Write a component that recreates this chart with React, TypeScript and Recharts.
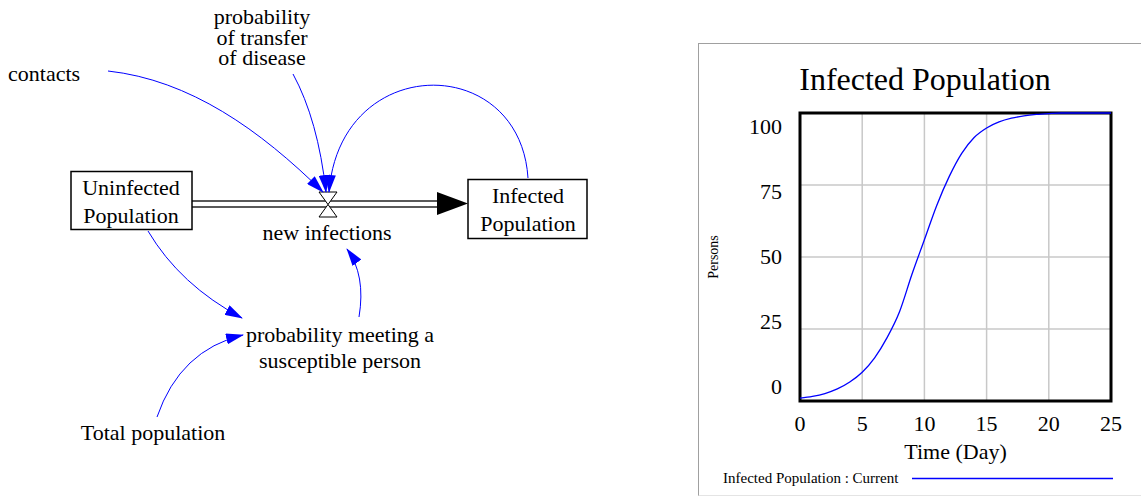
import React from 'react';
import { LineChart, Line, XAxis, YAxis, CartesianGrid, ReferenceArea } from 'recharts';

// simulation output (persons per day)
const days = [0, 1, 2, 3, 4, 5, 6, 7, 8, 9, 10, 11, 12, 13, 14, 15, 16, 17, 18, 19, 20, 21, 22, 23, 24, 25];
const infected = [1, 1.6, 2.6, 4.2, 6.6, 10, 15, 22, 31, 44, 56, 68, 78, 86, 91.5, 94.8, 96.9, 98.2, 99, 99.5, 99.8, 100, 100, 100, 100, 100];
const xTicks = [0, 5, 10, 15, 20, 25];
const yTicks = [0, 25, 50, 75, 100];

const data = days.map((d, i) => ({ day: d, infected: infected[i] }));

const serif = '"Liberation Serif", "Times New Roman", serif';
const blue = '#0000ff';

// Vensim spreads the y labels a little tighter than the grid
const YTick = (props: any) => {
    const { x, y, payload } = props;
    return (
        <text x={x} y={y + (payload.value - 50) * 0.28} dy="0.33em" textAnchor="end" fill="#000" fontSize={22} fontFamily={serif}>
            {payload.value}
        </text>
    );
};

const TimeLabel = (props: any) => {
    const vb = props.viewBox || { x: 800, y: 401, width: 311, height: 30 };
    return (
        <text x={vb.x + vb.width / 2} y={vb.y + 58} textAnchor="middle" fill="#000" fontSize={22} fontFamily={serif}>
            Time (Day)
        </text>
    );
};

const PersonsLabel = (props: any) => {
    const vb = props.viewBox || { x: 740, y: 113, width: 60, height: 288 };
    return (
        <text transform={`translate(${vb.x - 22},${vb.y + vb.height / 2}) rotate(-90)`} textAnchor="middle" fill="#000" fontSize={14} fontFamily={serif}>
            Persons
        </text>
    );
};

const Link = ({ d }: { d: string }) => (
    <path d={d} fill="none" stroke={blue} strokeWidth={1} markerEnd="url(#ah)" />
);

const Word = ({ x, y, children, anchor = 'middle' }: any) => (
    <text x={x} y={y} textAnchor={anchor} fontSize={22} fontFamily={serif} fill="#000">
        {children}
    </text>
);

// stock and flow diagram on the left
const Diagram = () => (
    <svg width={690} height={496} style={{ position: 'absolute', left: 0, top: 0 }}>
        <defs>
            <marker id="ah" viewBox="0 0 18 11" refX="17" refY="5.5" markerWidth="18" markerHeight="11" markerUnits="userSpaceOnUse" orient="auto">
                <path d="M0,0 L18,5.5 L0,11 z" fill={blue} />
            </marker>
        </defs>

        {/* pipe + valve */}
        <line x1={192} y1={201} x2={440} y2={201} stroke="#222" strokeWidth={1.5} />
        <line x1={192} y1={207} x2={440} y2={207} stroke="#222" strokeWidth={1.5} />
        <path d="M437,192 L468,203.5 L437,215 z" fill="#000" />
        <path d="M319,192 L337,192 L328,204.5 z M319,217 L337,217 L328,204.5 z" fill="#fff" stroke="#000" strokeWidth={1} />

        <rect x={71} y={171.5} width={121} height={58} fill="#fff" stroke="#000" strokeWidth={1.5} />
        <rect x={468} y={179.5} width={119} height={59} fill="#fff" stroke="#000" strokeWidth={1.5} />

        <Link d="M108,71 C190,80 260,130 323,192" />
        <Link d="M293,74 Q318,120 326,192" />
        <Link d="M528,178 C520,52 340,52 329,192" />
        <Link d="M148,231 Q180,285 242,318" />
        <Link d="M157,417 Q180,350 243,335" />
        <Link d="M359,317 Q366,275 347,249" />

        <Word x={8} y={81} anchor="start">contacts</Word>
        <Word x={262} y={24}>probability</Word>
        <Word x={262} y={44.5}>of transfer</Word>
        <Word x={262} y={65}>of disease</Word>
        <Word x={131} y={195}>Uninfected</Word>
        <Word x={131} y={223}>Population</Word>
        <Word x={327} y={240}>new infections</Word>
        <Word x={528} y={203}>Infected</Word>
        <Word x={528} y={231}>Population</Word>
        <Word x={340} y={342}>probability meeting a</Word>
        <Word x={340} y={368}>susceptible person</Word>
        <Word x={153} y={440}>Total population</Word>
    </svg>
);

export default function App() {
    return (
        <div style={{ position: 'absolute', left: 0, top: 0, width: 1141, height: 496, background: '#fff', overflow: 'hidden' }}>
            <Diagram />

            {/* graph window frame */}
            <div style={{ position: 'absolute', left: 698, top: 43, width: 460, height: 451, borderLeft: '1px solid #a0a0a0', borderTop: '1px solid #a0a0a0', borderBottom: '1px solid #e4e4e4' }} />

            <div style={{ position: 'absolute', left: 698, top: 44 }}>
                <LineChart width={443} height={452} data={data} margin={{ top: 69, right: 30, left: 42, bottom: 65 }}>
                    <CartesianGrid stroke="#c8c8c8" strokeWidth={1.5} />
                    <XAxis
                        dataKey="day"
                        type="number"
                        domain={[0, 25]}
                        ticks={xTicks}
                        axisLine={false}
                        tickLine={false}
                        tickSize={0}
                        tickMargin={14}
                        height={30}
                        tick={{ fill: '#000', fontSize: 22, fontFamily: serif }}
                        label={{ content: TimeLabel }}
                    />
                    <YAxis
                        type="number"
                        domain={[0, 100]}
                        ticks={yTicks}
                        width={60}
                        axisLine={false}
                        tickLine={false}
                        tickSize={0}
                        tickMargin={18}
                        tick={<YTick />}
                        label={{ content: PersonsLabel }}
                    />
                    <ReferenceArea x1={0} x2={25} y1={0} y2={100} fill="none" fillOpacity={0} stroke="#000" strokeWidth={3} />
                    <Line dataKey="infected" type="monotone" stroke={blue} strokeWidth={1.3} dot={false} isAnimationActive={false} />
                </LineChart>
            </div>

            <svg width={1141} height={496} style={{ position: 'absolute', left: 0, top: 0, pointerEvents: 'none' }}>
                <text x={925} y={90} textAnchor="middle" fontSize={32} fontFamily={serif} fill="#000">Infected Population</text>
                <text x={723} y={483} fontSize={15} fontFamily={serif} fill="#000">Infected Population : Current</text>
                <line x1={912} y1={478.5} x2={1113} y2={478.5} stroke={blue} strokeWidth={1.5} />
            </svg>
        </div>
    );
}
